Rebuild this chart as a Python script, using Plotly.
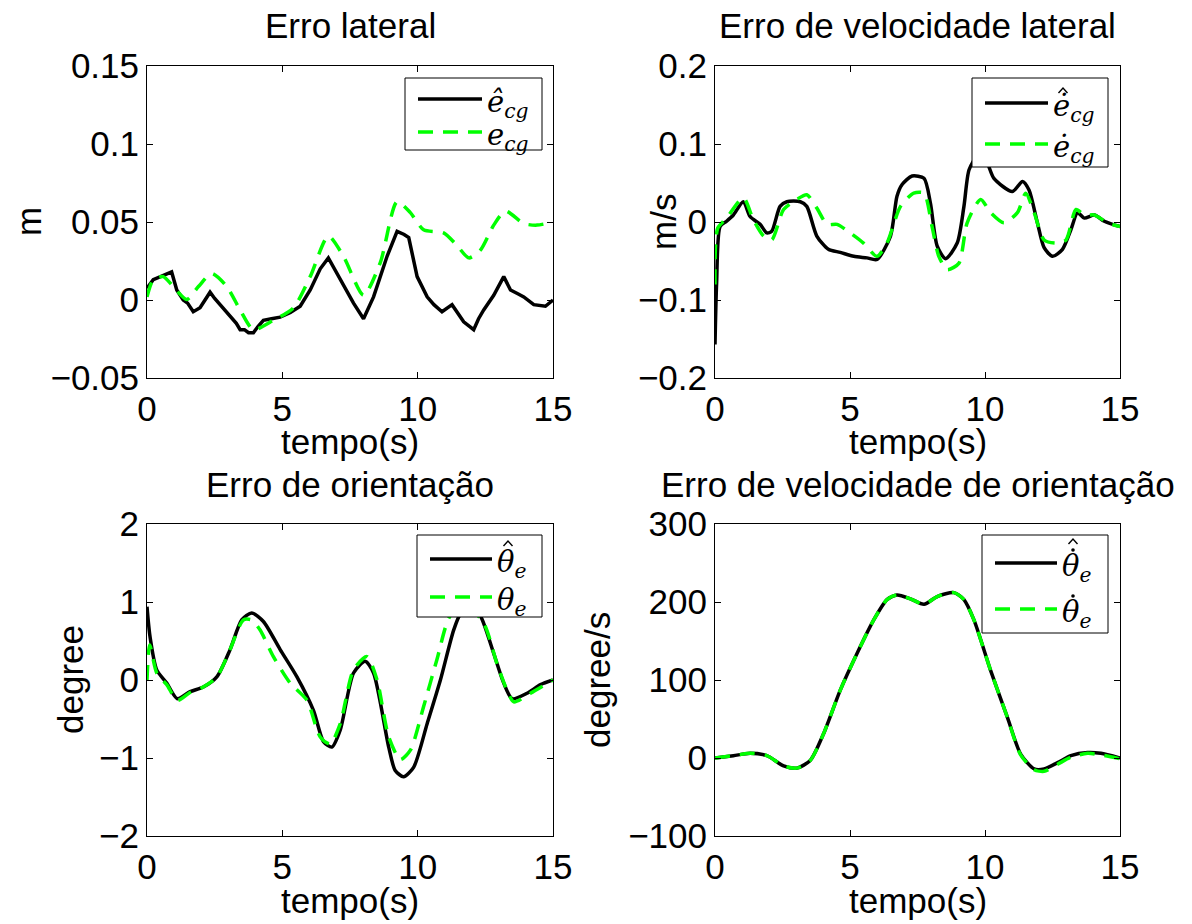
import plotly.graph_objects as go

# ---------------- data ----------------
# Panel 1: Erro lateral (m)
t_ecg_hat = [0, 0.23, 0.5, 0.73, 0.91, 1.1, 1.34, 1.5, 1.71, 1.96, 2.15, 2.33, 2.5, 2.7, 2.9, 3.13, 3.3, 3.44,
             3.6, 3.75, 3.93, 4.1, 4.3, 4.6, 4.92, 5.3, 5.66, 6.03, 6.4, 6.7, 7.14, 7.63, 8.0, 8.37, 8.87, 9.24,
             9.5, 9.67, 9.98, 10.35, 10.6, 10.9, 11.27, 11.5, 11.7, 12.07, 12.25, 12.44, 12.81, 13.18, 13.43,
             13.7, 13.92, 14.29, 14.72, 15.0]
ecg_hat = [0.0075, 0.013, 0.015, 0.017, 0.018, 0.0064, 0.0, -0.002, -0.0075, -0.005, 0.0, 0.005, 0.001, -0.003,
           -0.007, -0.011, -0.015, -0.019, -0.019, -0.021, -0.021, -0.017, -0.013, -0.012, -0.011, -0.008, -0.004,
           0.0064, 0.02, 0.027, 0.013, -0.002, -0.012, 0.002, 0.028, 0.044, 0.042, 0.040, 0.015, 0.002, -0.003,
           -0.0075, -0.003, -0.009, -0.014, -0.019, -0.012, -0.0064, 0.003, 0.015, 0.0064, 0.004, 0.002, -0.003,
           -0.004, 0.0]
t_ecg = [0, 0.23, 0.6, 0.97, 1.47, 1.9, 2.39, 2.95, 3.44, 3.93, 4.67, 5.41, 6.03, 6.7, 7.26, 8.0, 8.62, 9.24,
         9.73, 10.22, 10.96, 11.45, 11.89, 12.32, 12.81, 13.24, 13.92, 14.41, 15.0]
ecg = [0.002, 0.013, 0.015, 0.0086, 0.0004, 0.0086, 0.017, 0.0086, -0.0064, -0.019, -0.013, -0.005, 0.015, 0.041,
       0.028, 0.003, 0.024, 0.063, 0.056, 0.045, 0.043, 0.035, 0.027, 0.032, 0.048, 0.057, 0.049, 0.048, 0.050]

# Panel 2: Erro de velocidade lateral (m/s)
t_decg_hat = [0, 0.06, 0.19, 0.43, 0.68, 1.05, 1.3, 1.67, 1.92, 2.1, 2.41, 2.66, 3.16, 3.4, 3.77, 4.2, 4.64,
              5.14, 5.63, 6.0, 6.5, 6.74, 6.93, 7.3, 7.74, 7.98, 8.23, 8.54, 8.97, 9.22, 9.41, 9.72, 10.02, 10.33,
              11.01, 11.39, 11.63, 11.94, 12.19, 12.5, 12.87, 13.18, 13.43, 13.68, 14.05, 14.42, 15.0]
decg_hat = [-0.157, -0.078, -0.0056, 0.001, 0.009, 0.026, 0.007, -0.003, -0.014, -0.012, 0.020, 0.026, 0.026,
            0.020, -0.018, -0.035, -0.039, -0.044, -0.046, -0.048, -0.018, 0.033, 0.048, 0.059, 0.056, 0.024,
            -0.031, -0.047, -0.027, 0.020, 0.067, 0.084, 0.080, 0.056, 0.039, 0.052, 0.041, -0.001, -0.033,
            -0.044, -0.035, -0.010, 0.012, 0.005, 0.009, 0.001, -0.006]
t_decg = [0, 0.1, 0.43, 1.05, 1.42, 1.8, 2.1, 2.54, 3.03, 3.4, 3.77, 4.15, 4.52, 5.01, 5.5, 6.0, 6.37, 6.87,
          7.36, 7.74, 8.04, 8.29, 8.6, 9.03, 9.34, 9.84, 10.21, 10.7, 11.2, 11.51, 11.82, 12.19, 12.62, 13.0,
          13.37, 13.68, 14.05, 14.54, 15.0]
decg = [-0.08, -0.008, 0.005, 0.031, 0.003, -0.018, -0.023, 0.016, 0.029, 0.035, 0.018, -0.003, -0.003, -0.014,
        -0.027, -0.044, -0.027, 0.020, 0.037, 0.037, -0.006, -0.044, -0.061, -0.053, -0.001, 0.029, 0.012,
        -0.001, 0.012, 0.037, 0.012, -0.023, -0.027, -0.023, 0.016, 0.009, 0.009, -0.001, -0.006]

# Panel 3: Erro de orientação (degree)
t_th_hat = [0, 0.11, 0.36, 0.73, 1.12, 1.59, 2.08, 2.58, 3.07, 3.5, 3.87, 4.3, 4.92, 5.54, 6.15, 6.52, 6.83,
            7.14, 7.63, 8.06, 8.37, 8.93, 9.17, 9.48, 9.85, 10.35, 10.84, 11.33, 11.6, 11.95, 12.32, 12.81,
            13.18, 13.49, 14.04, 14.54, 15.0]
th_hat = [0.94, 0.56, 0.13, -0.04, -0.24, -0.15, -0.09, 0.04, 0.39, 0.77, 0.86, 0.75, 0.39, 0.04, -0.39, -0.79,
          -0.86, -0.64, 0.09, 0.24, 0.09, -0.86, -1.16, -1.24, -1.12, -0.56, 0.0, 0.64, 0.86, 0.95, 0.82, 0.34,
          -0.04, -0.24, -0.17, -0.06, 0.0]
t_th = [0, 0.1, 0.36, 0.73, 1.12, 1.59, 2.08, 2.58, 3.07, 3.56, 3.87, 4.18, 4.67, 5.29, 5.91, 6.4, 6.77, 7.14,
        7.63, 8.13, 8.5, 8.93, 9.36, 9.73, 10.22, 10.71, 11.2, 11.8, 12.44, 12.93, 13.3, 13.55, 14.17, 15.0]
th = [0.0, 0.45, 0.09, -0.06, -0.26, -0.16, -0.09, 0.04, 0.39, 0.77, 0.77, 0.64, 0.30, -0.04, -0.26, -0.73, -0.82,
      -0.56, 0.13, 0.30, 0.0, -0.73, -1.02, -0.9, -0.34, 0.26, 0.82, 0.95, 0.73, 0.21, -0.13, -0.28, -0.17, 0.0]

# Panel 4: Erro de velocidade de orientação (degree/s)
t_dth_hat = [0, 0.68, 1.3, 1.92, 2.54, 3.03, 3.53, 4.02, 4.64, 5.26, 5.88, 6.37, 6.74, 7.24, 7.74, 8.23, 8.85,
             9.22, 9.59, 10.21, 10.83, 11.32, 11.82, 12.19, 12.69, 13.18, 13.8, 14.29, 15.0]
dth_hat = [0, 3, 6, 3, -10, -13, -3, 31, 87, 134, 177, 203, 209, 204, 197, 207, 212, 203, 177, 112, 52, 5, -14,
           -14, -6, 3, 7, 6, 0]
t_dth = [0, 0.68, 1.3, 1.92, 2.54, 3.03, 3.53, 4.02, 4.64, 5.26, 5.88, 6.37, 6.74, 7.24, 7.74, 8.23, 8.85,
         9.22, 9.59, 10.21, 10.83, 11.32, 11.82, 12.19, 12.69, 13.18, 13.8, 14.29, 15.0]
dth = [0, 3, 6, 3, -10, -13, -3, 31, 87, 134, 177, 203, 209, 204, 197, 207, 212, 203, 177, 112, 52, 4, -15,
       -17, -8, 1, 6, 4, -1]

x_ticks = [0, 5, 10, 15]
x_ticktext = ["0", "5", "10", "15"]
y1_ticks = [-0.05, 0, 0.05, 0.1, 0.15]
y1_text = ["\u22120.05", "0", "0.05", "0.1", "0.15"]
y2_ticks = [-0.2, -0.1, 0, 0.1, 0.2]
y2_text = ["\u22120.2", "\u22120.1", "0", "0.1", "0.2"]
y3_ticks = [-2, -1, 0, 1, 2]
y3_text = ["\u22122", "\u22121", "0", "1", "2"]
y4_ticks = [-100, 0, 100, 200, 300]
y4_text = ["\u2212100", "0", "100", "200", "300"]

titles = ["Erro lateral", "Erro de velocidade lateral", "Erro de orientação", "Erro de velocidade de orientação"]
ylabels = ["m", "m/s", "degree", "degree/s"]
xlabel = "tempo(s)"
# legend entries: base glyph text; accents (drawn as small strokes above the main letter)
legend_labels = [
    ["<i>ê</i><sub><i>cg</i></sub>", "<i>e</i><sub><i>cg</i></sub>"],
    ["<i>\u0117</i><sub><i>cg</i></sub>", "<i>\u0117</i><sub><i>cg</i></sub>"],
    ["<i>\u03b8</i><sub><i>e</i></sub>", "<i>\u03b8</i><sub><i>e</i></sub>"],
    ["<i>\u03b8</i><sub><i>e</i></sub>", "<i>\u03b8</i><sub><i>e</i></sub>"],
]
legend_marks = [
    [[], []],
    [["hat"], []],
    [["hat"], []],
    [["dot", "hat"], ["dot"]],
]

# ---------------- layout helpers ----------------
W, H = 1192, 924
def px(x):
    return x / W
def py(y):
    return 1 - y / H

boxes = [(147, 553, 66, 378), (715, 1120, 66, 378), (147, 553, 524, 836), (715, 1120, 524, 836)]
ranges = [(-0.05, 0.15), (-0.2, 0.2), (-2, 2), (-100, 300)]
yticks = [(y1_ticks, y1_text), (y2_ticks, y2_text), (y3_ticks, y3_text), (y4_ticks, y4_text)]
series = [
    ((t_ecg_hat, ecg_hat, "linear"), (t_ecg, ecg, "spline")),
    ((t_decg_hat, decg_hat, "spline"), (t_decg, decg, "spline")),
    ((t_th_hat, th_hat, "spline"), (t_th, th, "spline")),
    ((t_dth_hat, dth_hat, "spline"), (t_dth, dth, "spline")),
]
# legend boxes: x0, x1, y0, y1, line x0, line x1, row y1, row y2
legend_geo = [
    (405, 542, 78, 150, 418, 482, 99, 132),
    (972, 1108, 78, 167, 985, 1048, 103, 144),
    (417, 542, 535, 617, 430, 492, 559, 597),
    (982, 1108, 535, 633, 995, 1057, 563, 609),
]
# y of the lowest accent slot relative to the row centre, per panel (e: over its dot, theta: over ascender)
accent_base = [-10, -12, -15, -13]
accent_dx = [12, 12, 13, 13]

SANS = "Liberation Sans, Arial, Helvetica, sans-serif"
SERIF = "DejaVu Serif, Liberation Serif, serif"
FS = 35
GREEN = "#00ff00"

fig = go.Figure()
layout = dict(template="none", width=W, height=H, margin=dict(l=0, r=0, t=0, b=0, autoexpand=False),
              paper_bgcolor="white", plot_bgcolor="white", showlegend=False,
              font=dict(family=SANS, size=FS, color="black"))
annotations = []
shapes = []

for i in range(4):
    n = "" if i == 0 else str(i + 1)
    x0, x1, y0, y1 = boxes[i]
    (ta, va, sa), (tb, vb, sb) = series[i]
    fig.add_trace(go.Scatter(x=ta, y=va, mode="lines", xaxis="x" + n, yaxis="y" + n,
                             line=dict(color="black", width=3.5, shape=sa, smoothing=0.7)))
    fig.add_trace(go.Scatter(x=tb, y=vb, mode="lines", xaxis="x" + n, yaxis="y" + n,
                             line=dict(color=GREEN, width=3.5, shape=sb, smoothing=0.7, dash="15px,10px")))
    common = dict(showline=True, linecolor="black", linewidth=1, mirror="ticks", ticks="inside",
                  ticklen=6, tickcolor="black", tickwidth=1, showgrid=False, zeroline=False,
                  automargin=False, tickfont=dict(family=SANS, size=FS, color="black"))
    layout["xaxis" + n] = dict(common, domain=[px(x0), px(x1)], range=[0, 15], anchor="y" + n,
                               tickvals=x_ticks, ticktext=x_ticktext, ticklabelstandoff=0)
    layout["yaxis" + n] = dict(common, domain=[py(y1), py(y0)], range=list(ranges[i]), anchor="x" + n,
                               tickvals=yticks[i][0], ticktext=yticks[i][1], ticklabelstandoff=0)
    cx = (x0 + x1) / 2
    # title
    annotations.append(dict(text=titles[i], x=px(cx), y=py(y0 - 40), xref="paper", yref="paper",
                            xanchor="center", yanchor="middle", showarrow=False,
                            font=dict(family=SANS, size=FS, color="black")))
    # x label
    annotations.append(dict(text=xlabel, x=px(cx), y=py(y1 + 64), xref="paper", yref="paper",
                            xanchor="center", yanchor="middle", showarrow=False,
                            font=dict(family=SANS, size=FS, color="black")))
    # legend box
    lx0, lx1, ly0, ly1, lsx0, lsx1, r1, r2 = legend_geo[i]
    shapes.append(dict(type="rect", xref="paper", yref="paper", x0=px(lx0), x1=px(lx1), y0=py(ly1), y1=py(ly0),
                       line=dict(color="black", width=1), fillcolor="white", layer="above"))
    shapes.append(dict(type="line", xref="paper", yref="paper", x0=px(lsx0), x1=px(lsx1), y0=py(r1), y1=py(r1),
                       line=dict(color="black", width=3.5), layer="above"))
    shapes.append(dict(type="line", xref="paper", yref="paper", x0=px(lsx0), x1=px(lsx1), y0=py(r2), y1=py(r2),
                       line=dict(color=GREEN, width=3.5, dash="15px,10px"), layer="above"))
    for k, (lab, ry) in enumerate(zip(legend_labels[i], (r1, r2))):
        tx = lsx1 + 3
        annotations.append(dict(text=lab, x=px(tx), y=py(ry + 5), xref="paper", yref="paper",
                                xanchor="left", yanchor="middle", showarrow=False,
                                font=dict(family=SERIF, size=29, color="black")))
        # accents stacked above the main letter
        yy = ry + accent_base[i]
        ax = tx + accent_dx[i]
        for mk in legend_marks[i][k]:
            if mk == "dot":
                shapes.append(dict(type="circle", xref="paper", yref="paper",
                                   x0=px(ax - 1.8), x1=px(ax + 1.8), y0=py(yy + 1.8), y1=py(yy - 1.8),
                                   line=dict(color="black", width=0), fillcolor="black", layer="above"))
                yy -= 8
            else:
                path = "M {:.5f},{:.5f} L {:.5f},{:.5f} L {:.5f},{:.5f}".format(
                    px(ax - 4.5), py(yy + 2), px(ax), py(yy - 3), px(ax + 4.5), py(yy + 2))
                shapes.append(dict(type="path", xref="paper", yref="paper", path=path,
                                   line=dict(color="black", width=1.4), layer="above"))
                yy -= 9

ylab_x = [28, 663, 70, 597]
for i in range(4):
    x0, x1, y0, y1 = boxes[i]
    annotations.append(dict(text=ylabels[i], x=px(ylab_x[i]), y=py((y0 + y1) / 2), xref="paper", yref="paper",
                            xanchor="center", yanchor="middle", textangle=-90, showarrow=False,
                            font=dict(family=SANS, size=FS, color="black")))

layout["annotations"] = annotations
layout["shapes"] = shapes
fig.update_layout(**layout)

fig.write_html("out.html", config={"displayModeBar": False},
               post_script="document.body.style.margin='0';")
